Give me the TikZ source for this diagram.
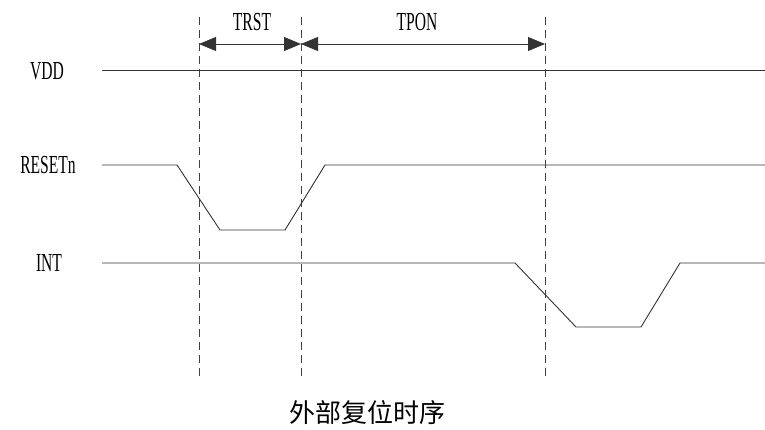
\documentclass[tikz,border=0pt]{standalone}
\usepackage{fontspec}
\setmainfont{Liberation Serif}
\newfontfamily\cjk{Noto Sans CJK SC}
\usetikzlibrary{arrows.meta}
\tikzset{
  sig/.style={draw=black!80, line width=0.9pt},
  guide/.style={draw=black!75, line width=0.8pt, dash pattern=on 8pt off 5pt},
  dim/.style={draw=black!80, line width=0.9pt, {Triangle[length=17pt,width=14pt]}-{Triangle[length=17pt,width=14pt]}},
  lbl/.style={font=\fontsize{26}{28}\selectfont, xscale=0.6, inner sep=0pt},
  captext/.style={font=\cjk\fontsize{26}{28}\selectfont, inner sep=0pt}
}
\begin{document}
\begin{tikzpicture}[x=1pt,y=-1pt]
\useasboundingbox (0,0) rectangle (765,430);
% labels
\node[lbl] (vdd) at (47,71) {VDD};
\node[lbl] (rst) at (48,165) {RESETn};
\node[lbl] (int) at (49,263) {INT};
\node[lbl] (trst) at (252,22) {TRST};
\node[lbl] (tpon) at (417,22) {TPON};
\node[captext] (caption) at (367,413) {外部复位时序};
% guide lines
\coordinate (g1t) at (199,17); \coordinate (g1b) at (199,380);
\coordinate (g2t) at (301,17); \coordinate (g2b) at (301,380);
\coordinate (g3t) at (545,17); \coordinate (g3b) at (545,380);
\draw[guide] (g1t) -- (g1b);
\draw[guide] (g2t) -- (g2b);
\draw[guide] (g3t) -- (g3b);
% dimension arrows
\coordinate (a1) at (199,44); \coordinate (a2) at (301,44); \coordinate (a3) at (545,44);
\draw[dim] (a1) -- (a2);
\draw[dim] (a2) -- (a3);
% VDD
\coordinate (v0) at (102,70); \coordinate (v1) at (765,70);
\draw[sig] (v0) -- (v1);
% RESETn
\coordinate (r0) at (102,165); \coordinate (r1) at (177,165);
\coordinate (r2) at (220,230); \coordinate (r3) at (285,230);
\coordinate (r4) at (325,165); \coordinate (r5) at (765,165);
\draw[sig] (r0) -- (r1) -- (r2) -- (r3) -- (r4) -- (r5);
% INT
\coordinate (i0) at (102,263); \coordinate (i1) at (515,263);
\coordinate (i2) at (576,327); \coordinate (i3) at (641,327);
\coordinate (i4) at (680,263); \coordinate (i5) at (765,263);
\draw[sig] (i0) -- (i1) -- (i2) -- (i3) -- (i4) -- (i5);
\end{tikzpicture}
\end{document}
